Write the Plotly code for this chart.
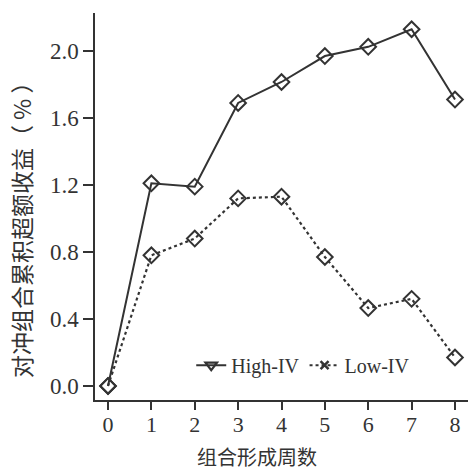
import plotly.graph_objects as go

weeks = [0, 1, 2, 3, 4, 5, 6, 7, 8]
high_iv = [0.00, 1.21, 1.19, 1.69, 1.815, 1.97, 2.025, 2.13, 1.71]
low_iv = [0.00, 0.78, 0.88, 1.12, 1.13, 0.77, 0.465, 0.52, 0.17]
y_ticks = [0.0, 0.4, 0.8, 1.2, 1.6, 2.0]

ink = "#333333"
serif = "Liberation Serif"
cjk = "Noto Sans CJK SC"

fig = go.Figure()

# data lines with open diamond markers
fig.add_trace(go.Scatter(
    x=weeks, y=high_iv, mode="lines+markers", showlegend=False,
    line=dict(color=ink, width=2, dash="solid"),
    marker=dict(symbol="diamond-open", size=12, color=ink, line=dict(width=2)),
))
fig.add_trace(go.Scatter(
    x=weeks, y=low_iv, mode="lines+markers", showlegend=False,
    line=dict(color=ink, width=2.2, dash="dot"),
    marker=dict(symbol="diamond-open", size=12, color=ink, line=dict(width=2)),
))

# legend entries
fig.add_trace(go.Scatter(
    x=[None], y=[None], mode="lines+markers", name="High-IV",
    line=dict(color=ink, width=2, dash="solid"),
    marker=dict(symbol="triangle-down-open", size=10, color=ink, line=dict(width=2.2)),
))
fig.add_trace(go.Scatter(
    x=[None], y=[None], mode="lines+markers", name="Low-IV",
    line=dict(color=ink, width=2, dash="dot"),
    marker=dict(symbol="x-thin-open", size=8, color=ink, line=dict(width=2.5)),
))

fig.update_layout(
    width=471, height=470,
    margin=dict(l=95, r=3, t=13, b=70),
    plot_bgcolor="white", paper_bgcolor="white",
    font=dict(family=serif, color=ink, size=20),
    showlegend=True,
    legend=dict(
        orientation="h", x=0.258, y=0.09, xanchor="left", yanchor="middle",
        bgcolor="rgba(0,0,0,0)", font=dict(family=serif, size=20, color=ink),
        itemwidth=30, tracegroupgap=0,
    ),
    xaxis=dict(
        range=[-0.3, 8.3], tickvals=weeks, ticktext=[str(w) for w in weeks],
        showline=True, linecolor=ink, linewidth=1.5, mirror=False,
        ticks="outside", ticklen=8, tickwidth=1.5, tickcolor=ink,
        ticklabelstandoff=-4,
        showgrid=False, zeroline=False,
        tickfont=dict(family=serif, size=22, color=ink),
    ),
    yaxis=dict(
        range=[-0.084, 2.227], tickvals=y_ticks,
        ticktext=[f"{v:.1f}" for v in y_ticks],
        showline=True, linecolor=ink, linewidth=1.5, mirror=False,
        ticks="outside", ticklen=10, tickwidth=1.5, tickcolor=ink,
        showgrid=False, zeroline=False,
        tickfont=dict(family=serif, size=23, color=ink),
    ),
    annotations=[
        dict(text="组合形成周数", xref="paper", yref="paper", x=0.434, y=-0.147,
             xanchor="center", yanchor="middle", showarrow=False,
             font=dict(family=cjk, size=20, color=ink)),
        dict(text="对冲组合累积超额收益（ % ）", xref="paper", yref="paper",
             x=-0.198, y=0.455, xanchor="center", yanchor="middle",
             textangle=-90, showarrow=False,
             font=dict(family=cjk, size=23, color=ink)),
    ],
)

fig.write_html("out.html")
